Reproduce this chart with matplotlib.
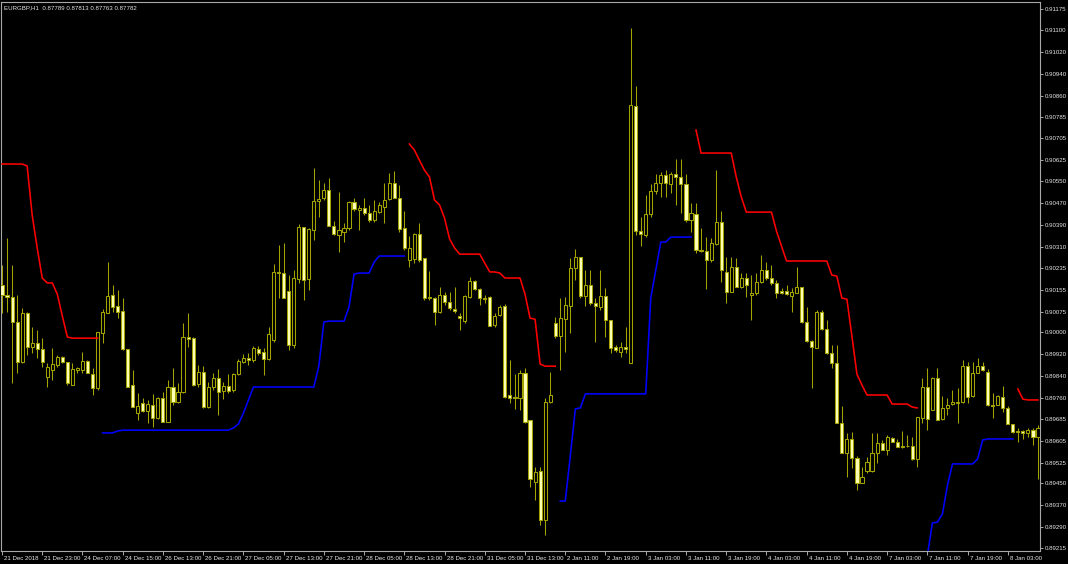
import numpy as np
import matplotlib
matplotlib.use("Agg")
import matplotlib.pyplot as plt
from matplotlib.transforms import ScaledTranslation

# EURGBP H1 candles with the two channel lines (MT4 style, black scheme)
title = "EURGBP,H1  0.87789 0.87813 0.87763 0.87782"

opens = [
    0.90171, 0.90135, 0.90128, 0.90037, 0.89891, 0.90069, 0.89945, 0.89960, 0.89938, 0.89836,
    0.89862, 0.89880, 0.89909, 0.89891, 0.89807, 0.89862, 0.89862, 0.89895, 0.89847, 0.89796,
    0.89996, 0.90069, 0.90135, 0.90095, 0.90077, 0.89938, 0.89807, 0.89705, 0.89742, 0.89713,
    0.89734, 0.89687, 0.89760, 0.89673, 0.89800, 0.89745, 0.89782, 0.89982, 0.89978, 0.89811,
    0.89855, 0.89727, 0.89800, 0.89833, 0.89785, 0.89804, 0.89789, 0.89847, 0.89891, 0.89906,
    0.89898, 0.89938, 0.89927, 0.89902, 0.89971, 0.90219, 0.90215, 0.90149, 0.89953, 0.90193,
    0.90383, 0.90193, 0.90372, 0.90477, 0.90488, 0.90517, 0.90386, 0.90353, 0.90364, 0.90379,
    0.90474, 0.90444, 0.90452, 0.90433, 0.90408, 0.90437, 0.90455, 0.90484, 0.90543, 0.90488,
    0.90379, 0.90262, 0.90266, 0.90357, 0.90270, 0.90128, 0.90124, 0.90073, 0.90135, 0.90109,
    0.90084, 0.90058, 0.90040, 0.90128, 0.90186, 0.90157, 0.90124, 0.90128, 0.90026, 0.90062,
    0.90095, 0.89771, 0.89764, 0.89760, 0.89851, 0.89680, 0.89454, 0.89494, 0.89316, 0.89745,
    0.90033, 0.89985, 0.90047, 0.90095, 0.90233, 0.90273, 0.90131, 0.90171, 0.90106, 0.90091,
    0.90131, 0.90044, 0.89945, 0.89927, 0.89945, 0.89887, 0.90823, 0.90368, 0.90353, 0.90430,
    0.90514, 0.90543, 0.90572, 0.90539, 0.90575, 0.90565, 0.90539, 0.90408, 0.90430, 0.90299,
    0.90295, 0.90262, 0.90321, 0.90401, 0.90219, 0.90146, 0.90237, 0.90164, 0.90197, 0.90135,
    0.90142, 0.90182, 0.90226, 0.90197, 0.90179, 0.90149, 0.90149, 0.90131, 0.90142, 0.90164,
    0.90037, 0.89967, 0.89942, 0.90073, 0.90011, 0.89924, 0.89887, 0.89669, 0.89560, 0.89611,
    0.89541, 0.89450, 0.89494, 0.89494, 0.89560, 0.89596, 0.89571, 0.89614, 0.89600, 0.89585,
    0.89585, 0.89585, 0.89538, 0.89687, 0.89800, 0.89716, 0.89833, 0.89684, 0.89724, 0.89738,
    0.89742, 0.89745, 0.89876, 0.89767, 0.89851, 0.89876, 0.89855, 0.89734, 0.89734, 0.89764,
    0.89724, 0.89665, 0.89640, 0.89640, 0.89633, 0.89643, 0.89618,
]

highs = [
    0.90244, 0.90343, 0.90244, 0.90135, 0.90088, 0.90073, 0.90018, 0.90007, 0.89978, 0.89887,
    0.89942, 0.89916, 0.89913, 0.89891, 0.89887, 0.89873, 0.89927, 0.89898, 0.89869, 0.90000,
    0.90084, 0.90255, 0.90171, 0.90153, 0.90124, 0.89938, 0.89862, 0.89778, 0.89760, 0.89753,
    0.89775, 0.89764, 0.89782, 0.89825, 0.89869, 0.89814, 0.90033, 0.90069, 0.89982, 0.89880,
    0.89876, 0.89818, 0.89851, 0.89866, 0.89818, 0.89847, 0.89851, 0.89902, 0.89920, 0.89924,
    0.89949, 0.89949, 0.89942, 0.90018, 0.90248, 0.90317, 0.90324, 0.90208, 0.90226, 0.90393,
    0.90383, 0.90379, 0.90597, 0.90554, 0.90543, 0.90561, 0.90404, 0.90510, 0.90397, 0.90477,
    0.90488, 0.90463, 0.90488, 0.90463, 0.90481, 0.90474, 0.90543, 0.90579, 0.90586, 0.90535,
    0.90441, 0.90350, 0.90361, 0.90397, 0.90270, 0.90222, 0.90128, 0.90164, 0.90146, 0.90146,
    0.90164, 0.90069, 0.90135, 0.90200, 0.90190, 0.90160, 0.90135, 0.90131, 0.90069, 0.90099,
    0.90102, 0.89898, 0.89847, 0.89862, 0.89869, 0.89680, 0.89509, 0.89509, 0.89760, 0.89855,
    0.90055, 0.90124, 0.90128, 0.90270, 0.90303, 0.90273, 0.90226, 0.90226, 0.90124, 0.90226,
    0.90160, 0.90044, 0.89953, 0.89964, 0.90018, 0.91107, 0.90896, 0.90419, 0.90499, 0.90539,
    0.90575, 0.90583, 0.90590, 0.90583, 0.90630, 0.90630, 0.90575, 0.90470, 0.90470, 0.90379,
    0.90346, 0.90343, 0.90590, 0.90441, 0.90273, 0.90273, 0.90270, 0.90215, 0.90215, 0.90208,
    0.90215, 0.90281, 0.90255, 0.90244, 0.90190, 0.90160, 0.90171, 0.90160, 0.90237, 0.90164,
    0.90091, 0.89971, 0.90080, 0.90080, 0.90044, 0.89953, 0.89953, 0.89731, 0.89633, 0.89636,
    0.89549, 0.89509, 0.89545, 0.89633, 0.89633, 0.89607, 0.89625, 0.89618, 0.89611, 0.89640,
    0.89625, 0.89618, 0.89691, 0.89833, 0.89869, 0.89836, 0.89869, 0.89767, 0.89760, 0.89789,
    0.89796, 0.89898, 0.89891, 0.89891, 0.89906, 0.89891, 0.89866, 0.89778, 0.89771, 0.89804,
    0.89731, 0.89665, 0.89651, 0.89643, 0.89651, 0.89651, 0.89662,
]

lows = [
    0.90069, 0.90073, 0.89814, 0.89851, 0.89887, 0.89916, 0.89924, 0.89906, 0.89873, 0.89800,
    0.89825, 0.89873, 0.89887, 0.89807, 0.89807, 0.89851, 0.89851, 0.89851, 0.89771, 0.89789,
    0.89960, 0.90069, 0.90073, 0.90051, 0.89935, 0.89800, 0.89727, 0.89680, 0.89709, 0.89669,
    0.89654, 0.89684, 0.89673, 0.89673, 0.89734, 0.89742, 0.89778, 0.89945, 0.89804, 0.89800,
    0.89724, 0.89724, 0.89789, 0.89698, 0.89756, 0.89778, 0.89782, 0.89844, 0.89887, 0.89880,
    0.89891, 0.89916, 0.89844, 0.89898, 0.89964, 0.90124, 0.90124, 0.89935, 0.89942, 0.90179,
    0.90117, 0.90153, 0.90335, 0.90419, 0.90481, 0.90386, 0.90353, 0.90292, 0.90328, 0.90372,
    0.90441, 0.90372, 0.90426, 0.90401, 0.90401, 0.90433, 0.90397, 0.90481, 0.90488, 0.90364,
    0.90299, 0.90237, 0.90251, 0.90255, 0.90117, 0.90117, 0.90026, 0.90069, 0.90099, 0.90080,
    0.90069, 0.90007, 0.90033, 0.90124, 0.90153, 0.90099, 0.90106, 0.90022, 0.90018, 0.90058,
    0.89760, 0.89742, 0.89720, 0.89716, 0.89669, 0.89436, 0.89389, 0.89297, 0.89261, 0.89742,
    0.89978, 0.89862, 0.89927, 0.89996, 0.90190, 0.90124, 0.90095, 0.90099, 0.89964, 0.90080,
    0.89982, 0.89924, 0.89927, 0.89909, 0.89924, 0.89887, 0.90353, 0.90313, 0.90346, 0.90419,
    0.90503, 0.90492, 0.90492, 0.90506, 0.90463, 0.90433, 0.90401, 0.90364, 0.90288, 0.90292,
    0.90157, 0.90255, 0.90317, 0.90182, 0.90106, 0.90146, 0.90164, 0.90160, 0.90128, 0.90044,
    0.90135, 0.90179, 0.90190, 0.90171, 0.90124, 0.90138, 0.90135, 0.90073, 0.90142, 0.90033,
    0.89964, 0.89796, 0.89942, 0.90007, 0.89920, 0.89869, 0.89669, 0.89560, 0.89472, 0.89505,
    0.89425, 0.89450, 0.89487, 0.89490, 0.89523, 0.89571, 0.89552, 0.89600, 0.89581, 0.89578,
    0.89581, 0.89534, 0.89509, 0.89669, 0.89643, 0.89716, 0.89680, 0.89680, 0.89698, 0.89734,
    0.89669, 0.89742, 0.89742, 0.89764, 0.89851, 0.89858, 0.89731, 0.89687, 0.89734, 0.89709,
    0.89665, 0.89633, 0.89600, 0.89611, 0.89618, 0.89589, 0.89465,
]

closes = [
    0.90135, 0.90128, 0.90037, 0.89891, 0.90069, 0.89945, 0.89960, 0.89938, 0.89891, 0.89873,
    0.89884, 0.89909, 0.89891, 0.89814, 0.89866, 0.89869, 0.89895, 0.89851, 0.89796, 0.90000,
    0.90073, 0.90131, 0.90091, 0.90073, 0.89938, 0.89800, 0.89727, 0.89731, 0.89713, 0.89738,
    0.89687, 0.89760, 0.89673, 0.89800, 0.89745, 0.89782, 0.89982, 0.89975, 0.89807, 0.89855,
    0.89727, 0.89800, 0.89833, 0.89782, 0.89804, 0.89785, 0.89847, 0.89895, 0.89906, 0.89898,
    0.89942, 0.89924, 0.89902, 0.89993, 0.90219, 0.90215, 0.90124, 0.89953, 0.90197, 0.90383,
    0.90190, 0.90375, 0.90477, 0.90484, 0.90517, 0.90386, 0.90357, 0.90372, 0.90379, 0.90474,
    0.90448, 0.90452, 0.90433, 0.90408, 0.90441, 0.90463, 0.90481, 0.90543, 0.90488, 0.90375,
    0.90306, 0.90306, 0.90357, 0.90262, 0.90124, 0.90124, 0.90073, 0.90135, 0.90109, 0.90088,
    0.90077, 0.90051, 0.90131, 0.90186, 0.90157, 0.90124, 0.90120, 0.90022, 0.90058, 0.90091,
    0.89764, 0.89760, 0.89760, 0.89851, 0.89673, 0.89465, 0.89490, 0.89316, 0.89745, 0.89771,
    0.89985, 0.90051, 0.90099, 0.90233, 0.90273, 0.90131, 0.90171, 0.90106, 0.90095, 0.90131,
    0.90044, 0.89942, 0.89935, 0.89945, 0.89938, 0.90827, 0.90368, 0.90357, 0.90430, 0.90514,
    0.90543, 0.90572, 0.90543, 0.90575, 0.90565, 0.90539, 0.90408, 0.90433, 0.90299, 0.90295,
    0.90262, 0.90324, 0.90401, 0.90226, 0.90146, 0.90237, 0.90164, 0.90197, 0.90171, 0.90142,
    0.90182, 0.90226, 0.90197, 0.90179, 0.90142, 0.90142, 0.90138, 0.90146, 0.90164, 0.90037,
    0.89967, 0.89945, 0.90073, 0.90011, 0.89924, 0.89887, 0.89669, 0.89560, 0.89611, 0.89541,
    0.89450, 0.89472, 0.89527, 0.89560, 0.89596, 0.89571, 0.89618, 0.89600, 0.89581, 0.89581,
    0.89585, 0.89538, 0.89691, 0.89800, 0.89684, 0.89833, 0.89680, 0.89724, 0.89734, 0.89745,
    0.89745, 0.89876, 0.89764, 0.89851, 0.89876, 0.89862, 0.89734, 0.89731, 0.89767, 0.89724,
    0.89665, 0.89636, 0.89636, 0.89633, 0.89643, 0.89618, 0.89651,
]

# upper (red) and lower (blue) channel lines, as (first bar, values)
red_segments = [
    (0, [0.90612, 0.90612, 0.90612, 0.90612, 0.90612, 0.90605, 0.90426, 0.90306, 0.90197, 0.90179,
         0.90179, 0.90138, 0.90058, 0.89982, 0.89978, 0.89978, 0.89978, 0.89978, 0.89978, 0.89978]),
    (81, [0.90685, 0.90663, 0.90626, 0.90590, 0.90565, 0.90481, 0.90463, 0.90415, 0.90339, 0.90306,
          0.90284, 0.90284, 0.90284, 0.90284, 0.90284, 0.90251, 0.90219, 0.90219, 0.90215, 0.90197,
          0.90197, 0.90197, 0.90197, 0.90138, 0.90051, 0.90047, 0.89884, 0.89876, 0.89876, 0.89876]),
    (138, [0.90736, 0.90652, 0.90652, 0.90652, 0.90652, 0.90652, 0.90652, 0.90652, 0.90565, 0.90492,
           0.90437, 0.90437, 0.90437, 0.90437, 0.90437, 0.90437, 0.90368, 0.90313, 0.90259, 0.90259,
           0.90259, 0.90259, 0.90259, 0.90259, 0.90259, 0.90259, 0.90259, 0.90208, 0.90204, 0.90124,
           0.90120, 0.89985, 0.89847, 0.89807, 0.89771, 0.89771, 0.89771, 0.89771, 0.89771, 0.89738,
           0.89738, 0.89738, 0.89738, 0.89727, 0.89724]),
    (202, [0.89793, 0.89756, 0.89753, 0.89753, 0.89753]),
]

blue_segments = [
    (20, [0.89633, 0.89633, 0.89633, 0.89640, 0.89643, 0.89643, 0.89643, 0.89643, 0.89643, 0.89643,
          0.89643, 0.89643, 0.89643, 0.89643, 0.89643, 0.89643, 0.89643, 0.89643, 0.89643, 0.89643,
          0.89643, 0.89643, 0.89643, 0.89643, 0.89643, 0.89643, 0.89651, 0.89665, 0.89705, 0.89753,
          0.89800, 0.89800, 0.89800, 0.89800, 0.89800, 0.89800, 0.89800, 0.89800, 0.89800, 0.89800,
          0.89800, 0.89800, 0.89800, 0.89876, 0.90037, 0.90040, 0.90040, 0.90040, 0.90040, 0.90091,
          0.90211, 0.90215, 0.90215, 0.90215, 0.90255, 0.90277, 0.90277, 0.90277, 0.90277, 0.90277,
          0.90277]),
    (111, [0.89385, 0.89385, 0.89549, 0.89720, 0.89724, 0.89775, 0.89775, 0.89775, 0.89775, 0.89775,
           0.89775, 0.89775, 0.89775, 0.89775, 0.89775, 0.89775, 0.89775, 0.89775, 0.90124, 0.90226,
           0.90328, 0.90328, 0.90346, 0.90346, 0.90346, 0.90346, 0.90346]),
    (184, [0.89185, 0.89305, 0.89308, 0.89338, 0.89443, 0.89520, 0.89520, 0.89520, 0.89520, 0.89520,
           0.89538, 0.89607, 0.89611, 0.89611, 0.89611, 0.89611, 0.89611, 0.89611]),
]

x_labels = [
    "21 Dec 2018", "21 Dec 23:00", "24 Dec 07:00", "24 Dec 15:00", "26 Dec 13:00", "26 Dec 21:00",
    "27 Dec 05:00", "27 Dec 13:00", "27 Dec 21:00", "28 Dec 05:00", "28 Dec 13:00", "28 Dec 21:00",
    "31 Dec 05:00", "31 Dec 13:00", "2 Jan 11:00", "2 Jan 19:00", "3 Jan 03:00", "3 Jan 11:00",
    "3 Jan 19:00", "4 Jan 03:00", "4 Jan 11:00", "4 Jan 19:00", "7 Jan 03:00", "7 Jan 11:00",
    "7 Jan 19:00", "8 Jan 03:00",
]
bars_per_label = 8

y_ticks = [
    0.91175, 0.91100, 0.91020, 0.90940, 0.90860, 0.90785, 0.90705, 0.90625, 0.90550, 0.90470,
    0.90390, 0.90310, 0.90235, 0.90155, 0.90075, 0.90000, 0.89920, 0.89840, 0.89760, 0.89685,
    0.89605, 0.89525, 0.89450, 0.89370, 0.89290, 0.89215,
]

BG = "black"
FRAME = "#a8a8a8"
WICK = "#a3a300"
BEAR_FILL = "#ffffb8"
TEXT = "#e6e6e6"
FONT = "Liberation Sans"
FS = 4.4

o = np.array(opens)
h = np.array(highs)
l = np.array(lows)
c = np.array(closes)
n = len(o)
x = np.arange(n)

fig = plt.figure(figsize=(10.68, 5.64), dpi=100, facecolor=BG)
ax = fig.add_axes([1 / 1068, 13 / 564, 1038.5 / 1068, 549 / 564])
ax.set_facecolor(BG)

# wicks then bodies
ax.vlines(x, l, h, color=WICK, linewidth=0.75, zorder=2)
bear = c < o
body_low = np.minimum(o, c)
body_h = np.maximum(np.abs(c - o), 0.000012)
ax.bar(x[~bear], body_h[~bear], bottom=body_low[~bear], width=0.62,
       color=BG, edgecolor=WICK, linewidth=0.75, zorder=3)
ax.bar(x[bear], body_h[bear], bottom=body_low[bear], width=0.62,
       color=BEAR_FILL, edgecolor=WICK, linewidth=0.75, zorder=3)

for start, vals in red_segments:
    ax.plot(np.arange(start, start + len(vals)), vals, color="#ff0000", linewidth=1.15, zorder=4)
for start, vals in blue_segments:
    ax.plot(np.arange(start, start + len(vals)), vals, color="#0000ff", linewidth=1.15, zorder=4)

ax.set_xlim(-0.2, 206.3)
ax.set_ylim(0.89203, 0.91202)

for sp in ax.spines.values():
    sp.set_color(FRAME)
    sp.set_linewidth(0.8)

ax.yaxis.tick_right()
ax.set_yticks(y_ticks)
ax.set_yticklabels([f"{v:.5f}" for v in y_ticks], fontsize=FS, color=TEXT, family=FONT)
ax.tick_params(axis="y", direction="out", length=2.5, width=0.7, color=FRAME, pad=1.5)

ax.set_xticks(np.arange(len(x_labels)) * bars_per_label)
ax.set_xticklabels(x_labels, fontsize=FS, color=TEXT, family=FONT)
ax.tick_params(axis="x", direction="out", length=3, width=0.7, color=FRAME, pad=0.8)
shift = ScaledTranslation(2 / 100, 0, fig.dpi_scale_trans)
for lab in ax.get_xticklabels():
    lab.set_horizontalalignment("left")
    lab.set_transform(lab.get_transform() + shift)

fig.text(4 / 1068, 1 - 8 / 564, title, fontsize=FS, color=TEXT, family=FONT,
         ha="left", va="center")

fig.savefig("out.png", dpi=100, facecolor=BG)
